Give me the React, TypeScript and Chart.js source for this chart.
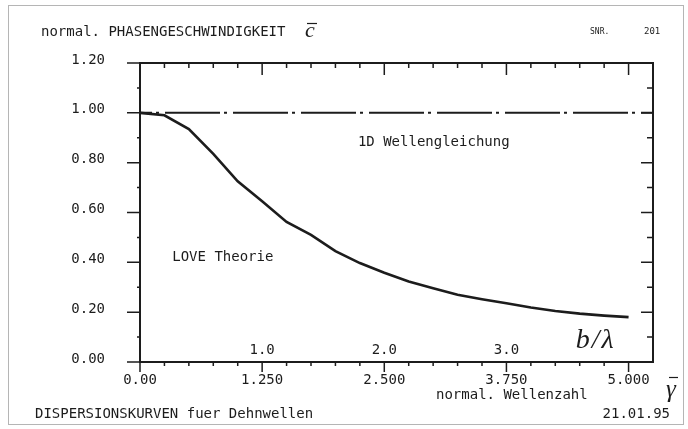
import React, { useEffect, useRef } from "react";
import { Chart, registerables } from "chart.js";

Chart.register(...registerables);

// normalized wave number (gamma bar) and normalized phase velocity (c bar), LOVE theory
const gammaValues = [0, 0.25, 0.5, 0.75, 1.0, 1.25, 1.5, 1.75, 2.0, 2.25, 2.5, 2.75, 3.0, 3.25, 3.5, 3.75, 4.0, 4.25, 4.5, 4.75, 5.0];
const loveValues = [1.0, 0.99, 0.935, 0.835, 0.725, 0.645, 0.562, 0.51, 0.445, 0.397, 0.358, 0.323, 0.296, 0.27, 0.252, 0.236, 0.219, 0.205, 0.194, 0.186, 0.18];

// 1D wave equation (non-dispersive)
const waveEqGamma = [0, 5.25];
const waveEqValues = [1.0, 1.0];

// axes
const xMin = 0;
const xMax = 5.25;
const yMin = 0;
const yMax = 1.2;
const xTickValues = [0, 1.25, 2.5, 3.75, 5.0];
const xTickLabels = ["0.00", "1.250", "2.500", "3.750", "5.000"];
const yTickValues = [0, 0.2, 0.4, 0.6, 0.8, 1.0, 1.2];
const xMinorStep = 0.25;
const yMinorStep = 0.1;

// secondary scale b/lambda printed above the x axis
const bLambdaValues = [1, 2, 3];
const bLambdaLabels = ["1.0", "2.0", "3.0"];
const gammaPerBLambda = 1.25;

const MONO = "'DejaVu Sans Mono', monospace";
const SERIF = "'Liberation Serif', 'DejaVu Serif', serif";
const INK = "#1c1c1c";

const decorPlugin = {
  id: "plotterDecor",
  afterDraw(chart: any) {
    const { ctx, chartArea, scales } = chart;
    const { left, right, top, bottom } = chartArea;
    const x = scales.x;
    const y = scales.y;
    ctx.save();

    // outer sheet frame
    ctx.strokeStyle = "#b5b5b5";
    ctx.lineWidth = 1;
    ctx.strokeRect(8.5, 5.5, 675, 419);

    // plot frame
    ctx.strokeStyle = INK;
    ctx.lineWidth = 2;
    ctx.strokeRect(left, top, right - left, bottom - top);

    // ticks
    ctx.lineWidth = 1.5;
    ctx.beginPath();
    const nY = Math.round((yMax - yMin) / yMinorStep);
    for (let i = 0; i <= nY; i++) {
      const py = y.getPixelForValue(yMin + i * yMinorStep);
      const major = i % 2 === 0;
      ctx.moveTo(left, py);
      ctx.lineTo(left - (major ? 13 : 3), py);
      if (i > 0 && i < nY) {
        ctx.moveTo(right, py);
        ctx.lineTo(right - (major ? 12 : 6), py);
      }
    }
    const nX = Math.round((xMax - xMin) / xMinorStep);
    for (let i = 0; i < nX; i++) {
      const v = xMin + i * xMinorStep;
      const px = x.getPixelForValue(v);
      const major = i % 5 === 0;
      ctx.moveTo(px, bottom);
      ctx.lineTo(px, bottom + (major ? 10 : 4));
      if (i > 0) {
        ctx.moveTo(px, top);
        ctx.lineTo(px, top + (major ? 12 : 5));
      }
    }
    ctx.stroke();

    const text = (s: string, tx: number, ty: number, font: string, align: CanvasTextAlign = "left", spacing = "0px") => {
      ctx.font = font;
      ctx.textAlign = align;
      ctx.textBaseline = "middle";
      ctx.fillStyle = INK;
      (ctx as any).letterSpacing = spacing;
      ctx.fillText(s, tx, ty);
      (ctx as any).letterSpacing = "0px";
    };

    // header / footer
    text("normal. PHASENGESCHWINDIGKEIT", 41, 32, `14px ${MONO}`);
    text("c", 305, 31, `italic 22px ${SERIF}`);
    ctx.lineWidth = 1.2;
    ctx.beginPath();
    ctx.moveTo(307, 23.5);
    ctx.lineTo(317, 23.5);
    ctx.stroke();
    text("SNR.", 590, 32, `8px ${MONO}`);
    text("201", 644, 32, `9px ${MONO}`);

    text("DISPERSIONSKURVEN fuer Dehnwellen", 35, 414, `14px ${MONO}`);
    text("21.01.95", 670, 414, `14px ${MONO}`, "right");
    text("normal. Wellenzahl", 436, 395, `14px ${MONO}`);

    // gamma bar
    text("\u03b3", 666, 390, `italic 25px ${SERIF}`);
    ctx.beginPath();
    ctx.moveTo(669, 377.5);
    ctx.lineTo(678, 377.5);
    ctx.stroke();

    // in-plot labels
    text("1D Wellengleichung", x.getPixelForValue(2.23), y.getPixelForValue(0.882), `14px ${MONO}`);
    text("LOVE Theorie", x.getPixelForValue(0.33), y.getPixelForValue(0.42), `14px ${MONO}`);

    // b/lambda secondary scale
    bLambdaValues.forEach((b, i) => {
      text(bLambdaLabels[i], x.getPixelForValue(b * gammaPerBLambda), bottom - 12, `14px ${MONO}`, "center");
    });
    text("b/\u03bb", x.getPixelForValue(4.46), bottom - 21, `italic 28px ${SERIF}`, "left", "2px");

    ctx.restore();
  },
};

export default function App() {
  const canvasRef = useRef<HTMLCanvasElement | null>(null);

  useEffect(() => {
    if (!canvasRef.current) return;
    const tickFont = { family: MONO, size: 14 };
    const chart = new Chart(canvasRef.current, {
      type: "line",
      data: {
        datasets: [
          {
            label: "LOVE Theorie",
            data: gammaValues.map((g, i) => ({ x: g, y: loveValues[i] })),
            borderColor: INK,
            borderWidth: 2.6,
            pointRadius: 0,
            tension: 0,
            fill: false,
          },
          {
            label: "1D Wellengleichung",
            data: waveEqGamma.map((g, i) => ({ x: g, y: waveEqValues[i] })),
            borderColor: INK,
            borderWidth: 2,
            borderDash: [55, 4, 3, 6],
            borderDashOffset: 43,
            pointRadius: 0,
            fill: false,
          },
        ],
      },
      options: {
        animation: false,
        responsive: false,
        maintainAspectRatio: false,
        layout: { padding: { left: 0, top: 63, right: 35, bottom: 0 } },
        plugins: {
          legend: { display: false },
          tooltip: { enabled: false },
          title: { display: false },
        },
        scales: {
          x: {
            type: "linear",
            min: xMin,
            max: xMax,
            grid: { display: false },
            border: { display: false },
            afterBuildTicks: (s: any) => {
              s.ticks = xTickValues.map((v) => ({ value: v }));
            },
            afterFit: (s: any) => {
              s.height = 67;
            },
            ticks: {
              autoSkip: false,
              maxRotation: 0,
              padding: 2,
              color: INK,
              font: tickFont,
              callback: (_v: any, i: number) => xTickLabels[i],
            },
          },
          y: {
            type: "linear",
            min: yMin,
            max: yMax,
            grid: { display: false },
            border: { display: false },
            afterBuildTicks: (s: any) => {
              s.ticks = yTickValues.map((v) => ({ value: v }));
            },
            afterFit: (s: any) => {
              s.width = 140;
            },
            ticks: {
              padding: 27,
              labelOffset: -3,
              color: INK,
              font: tickFont,
              callback: (v: any) => Number(v).toFixed(2),
            },
          },
        },
      },
      plugins: [decorPlugin],
    } as any);
    return () => chart.destroy();
  }, []);

  return (
    <div style={{ position: "absolute", left: 0, top: 0, width: 688, height: 429, background: "#fff" }}>
      <canvas ref={canvasRef} width={688} height={429} style={{ display: "block" }} />
    </div>
  );
}
